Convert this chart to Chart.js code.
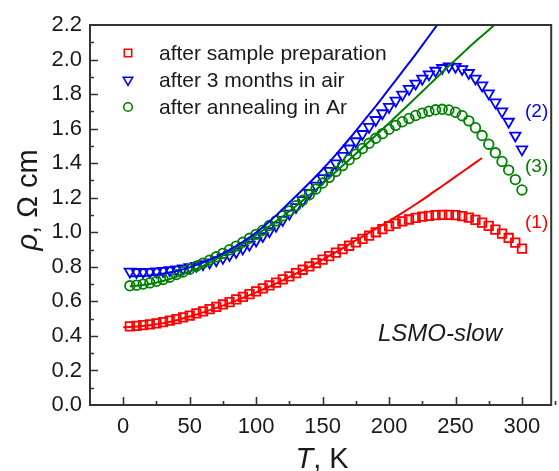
<!DOCTYPE html>
<html>
<head>
<meta charset="utf-8">
<script src="https://cdn.jsdelivr.net/npm/chart.js@4.4.1/dist/chart.umd.min.js"></script>
<style>
  html, body { margin: 0; padding: 0; background: #fff; overflow: hidden; }
  canvas { display: block; }
</style>
</head>
<body>
<canvas id="rhoChart" width="559" height="471"></canvas>
<script>
// measured points, T in K, rho in Ohm cm
let tempK = [5, 10, 15, 20, 25, 30, 35, 40, 45, 50, 55, 60, 65, 70, 75, 80, 85, 90, 95, 100,
  105, 110, 115, 120, 125, 130, 135, 140, 145, 150, 155, 160, 165, 170, 175, 180, 185, 190, 195, 200,
  205, 210, 215, 220, 225, 230, 235, 240, 245, 250, 255, 260, 265, 270, 275, 280, 285, 290, 295, 300];

let rhoPrep = [0.455, 0.458, 0.462, 0.467, 0.473, 0.480, 0.488, 0.497, 0.507, 0.518, 0.530, 0.542, 0.555, 0.568, 0.582, 0.596, 0.611, 0.626, 0.642, 0.658,
  0.675, 0.692, 0.709, 0.727, 0.745, 0.764, 0.783, 0.802, 0.822, 0.842, 0.862, 0.882, 0.902, 0.922, 0.942, 0.962, 0.981, 1.000, 1.018, 1.035,
  1.050, 1.063, 1.074, 1.083, 1.090, 1.095, 1.099, 1.101, 1.101, 1.099, 1.094, 1.085, 1.072, 1.056, 1.037, 1.015, 0.992, 0.967, 0.940, 0.905];

let rhoAir = [0.772, 0.770, 0.770, 0.771, 0.773, 0.776, 0.780, 0.785, 0.791, 0.798, 0.806, 0.815, 0.826, 0.838, 0.852, 0.868, 0.886, 0.906, 0.928, 0.952,
  0.978, 1.006, 1.038, 1.072, 1.108, 1.146, 1.186, 1.228, 1.270, 1.313, 1.356, 1.399, 1.442, 1.485, 1.527, 1.569, 1.610, 1.650, 1.689, 1.726,
  1.762, 1.797, 1.830, 1.861, 1.889, 1.914, 1.935, 1.951, 1.960, 1.958, 1.945, 1.922, 1.890, 1.850, 1.804, 1.752, 1.700, 1.640, 1.560, 1.480];

let rhoAnneal = [0.690, 0.694, 0.700, 0.707, 0.716, 0.727, 0.740, 0.755, 0.770, 0.786, 0.803, 0.821, 0.839, 0.858, 0.878, 0.899, 0.920, 0.942, 0.965, 0.988,
  1.012, 1.039, 1.066, 1.095, 1.124, 1.154, 1.185, 1.217, 1.250, 1.285, 1.318, 1.352, 1.386, 1.420, 1.453, 1.485, 1.515, 1.544, 1.571, 1.596,
  1.619, 1.640, 1.659, 1.676, 1.690, 1.701, 1.709, 1.712, 1.708, 1.695, 1.675, 1.645, 1.605, 1.560, 1.510, 1.460, 1.410, 1.360, 1.305, 1.245];

// fitted curves
let fitT = [0, 5, 10, 20, 30, 40, 50, 60, 70, 80, 90, 100, 110, 120, 130, 140, 150, 160, 170, 180, 190, 200, 210, 220, 230, 240, 250, 260, 270, 280];
let fitPrep = [0.450, 0.451, 0.454, 0.462, 0.474, 0.491, 0.512, 0.536, 0.562, 0.590, 0.620, 0.652, 0.686, 0.722, 0.760, 0.800, 0.842, 0.885, 0.930, 0.975,
  1.020, 1.065, 1.112, 1.162, 1.214, 1.268, 1.322, 1.376, 1.430, null];
let fitAir = [null, 0.745, 0.746, 0.750, 0.760, 0.775, 0.797, 0.824, 0.858, 0.898, 0.945, 0.998, 1.062, 1.135, 1.210, 1.285, 1.365, 1.450, 1.540, 1.635,
  1.730, 1.830, 1.930, 2.030, 2.135, 2.240, null, null, null, null];
let fitAnneal = [null, 0.688, 0.690, 0.700, 0.718, 0.742, 0.772, 0.806, 0.845, 0.888, 0.934, 0.984, 1.036, 1.092, 1.152, 1.215, 1.280, 1.350, 1.420, 1.490,
  1.560, 1.632, 1.705, 1.778, 1.852, 1.926, 1.998, 2.070, 2.138, 2.205];

let xTicks = [0, 50, 100, 150, 200, 250, 300];
let yTicks = [0, 0.2, 0.4, 0.6, 0.8, 1.0, 1.2, 1.4, 1.6, 1.8, 2.0, 2.2];
let seriesNames = ["after sample preparation", "after 3 months in air", "after annealing in Ar"];
let curveTags = ["(1)", "(2)", "(3)"];

let RED = "#ff0000", BLUE = "#0000ff", GREEN = "#008000";
let FONT = "Arial, 'Liberation Sans', sans-serif";

function pts(xs, ys) {
  return xs.map((x, i) => ({ x: x, y: ys[i] }));
}

function fitLine(ys, color) {
  return {
    data: pts(fitT, ys), showLine: true, borderColor: color, borderWidth: 2,
    pointRadius: 0, fill: false, tension: 0.3
  };
}

function markers(ys, color, style, r, rot) {
  return {
    data: pts(tempK, ys), showLine: false, pointStyle: style, pointRadius: r,
    pointRotation: rot || 0, pointBorderWidth: 1.8, borderColor: color,
    backgroundColor: "rgba(0,0,0,0)"
  };
}

let legendMarks = [
  { color: RED, style: "rect", r: 5.2, rot: 0 },
  { color: BLUE, style: "triangle", r: 5.4, rot: 180 },
  { color: GREEN, style: "circle", r: 4.3, rot: 0 }
];

let decorPlugin = {
  id: "decor",
  afterDraw(chart) {
    let ctx = chart.ctx;
    let a = chart.chartArea;
    let xs = chart.scales.x, ys = chart.scales.y;
    ctx.save();
    // frame
    ctx.strokeStyle = "#333";
    ctx.lineWidth = 2;
    ctx.strokeRect(a.left, a.top, a.right - a.left, a.bottom - a.top);
    // inward ticks
    ctx.lineWidth = 1.6;
    ctx.beginPath();
    for (let v = 0; v <= 325; v += 25) {
      let px = Math.round(xs.getPixelForValue(v)) + 0.5;
      let len = v % 50 === 0 ? 8 : 4;
      ctx.moveTo(px, a.bottom);
      ctx.lineTo(px, a.bottom - len);
    }
    for (let k = 1; k < 22; k++) {
      let py = Math.round(ys.getPixelForValue(k / 10)) + 0.5;
      let len = k % 2 === 0 ? 8 : 4;
      ctx.moveTo(a.left, py);
      ctx.lineTo(a.left + len, py);
    }
    ctx.stroke();

    // legend
    ctx.textBaseline = "middle";
    ctx.textAlign = "left";
    ctx.font = "21px " + FONT;
    legendMarks.forEach((m, i) => {
      let y = 53 + i * 27;
      ctx.strokeStyle = m.color;
      ctx.fillStyle = "rgba(0,0,0,0)";
      ctx.lineWidth = 1.6;
      Chart.helpers.drawPoint(ctx, { pointStyle: m.style, radius: m.r, rotation: m.rot, borderWidth: 1.6 }, 128, y);
      ctx.fillStyle = "#1a1a1a";
      ctx.fillText(seriesNames[i], 159, y + 1);
    });

    // curve tags
    ctx.font = "19px " + FONT;
    let tagPos = [[RED, 223], [BLUE, 112], [GREEN, 167]];
    tagPos.forEach((t, i) => {
      ctx.fillStyle = t[0];
      ctx.fillText(curveTags[i], 525, t[1]);
    });

    // sample name
    ctx.fillStyle = "#1a1a1a";
    ctx.font = "italic 24px " + FONT;
    ctx.textAlign = "center";
    ctx.fillText("LSMO-slow", 440, 334);

    // x title
    ctx.textBaseline = "alphabetic";
    ctx.textAlign = "left";
    let it = "italic 29px " + FONT, rg = "29px " + FONT;
    ctx.font = it;
    let w1 = ctx.measureText("T").width;
    ctx.font = rg;
    let w2 = ctx.measureText(", K").width;
    let x0 = 322 - (w1 + w2) / 2;
    ctx.font = it;
    ctx.fillText("T", x0, 468);
    ctx.font = rg;
    ctx.fillText(", K", x0 + w1, 468);

    // y title
    ctx.translate(37, 200);
    ctx.rotate(-Math.PI / 2);
    ctx.font = it;
    let r1 = ctx.measureText("\u03c1").width;
    ctx.font = rg;
    let r2 = ctx.measureText(", \u03a9 cm").width;
    let s0 = -(r1 + r2) / 2;
    ctx.font = it;
    ctx.fillText("\u03c1", s0, 0);
    ctx.font = rg;
    ctx.fillText(", \u03a9 cm", s0 + r1, 0);
    ctx.restore();
  }
};

new Chart(document.getElementById("rhoChart"), {
  type: "scatter",
  data: {
    datasets: [
      fitLine(fitPrep, RED),
      fitLine(fitAir, BLUE),
      fitLine(fitAnneal, GREEN),
      markers(rhoAnneal, GREEN, "circle", 4.8),
      markers(rhoAir, BLUE, "triangle", 6, 180),
      markers(rhoPrep, RED, "rect", 6)
    ]
  },
  options: {
    responsive: false,
    devicePixelRatio: 1,
    animation: false,
    layout: { padding: { top: 25, right: 1, left: 0, bottom: 0 } },
    plugins: { legend: { display: false }, tooltip: { enabled: false } },
    scales: {
      x: {
        type: "linear", min: -25, max: 322,
        afterBuildTicks: (s) => { s.ticks = xTicks.map((v) => ({ value: v })); },
        afterFit: (s) => { s.height = 66; },
        grid: { display: false, drawTicks: false },
        border: { display: false },
        ticks: { padding: 9, color: "#1a1a1a", font: { family: FONT, size: 22 }, maxRotation: 0 }
      },
      y: {
        type: "linear", min: 0, max: 2.2,
        afterBuildTicks: (s) => { s.ticks = yTicks.map((v) => ({ value: v })); },
        afterFit: (s) => { s.width = 90; },
        grid: { display: false, drawTicks: false },
        border: { display: false },
        ticks: {
          padding: 8, color: "#1a1a1a", font: { family: FONT, size: 22 },
          callback: (v) => Number(v).toFixed(1)
        }
      }
    }
  },
  plugins: [decorPlugin]
});
</script>
</body>
</html>
